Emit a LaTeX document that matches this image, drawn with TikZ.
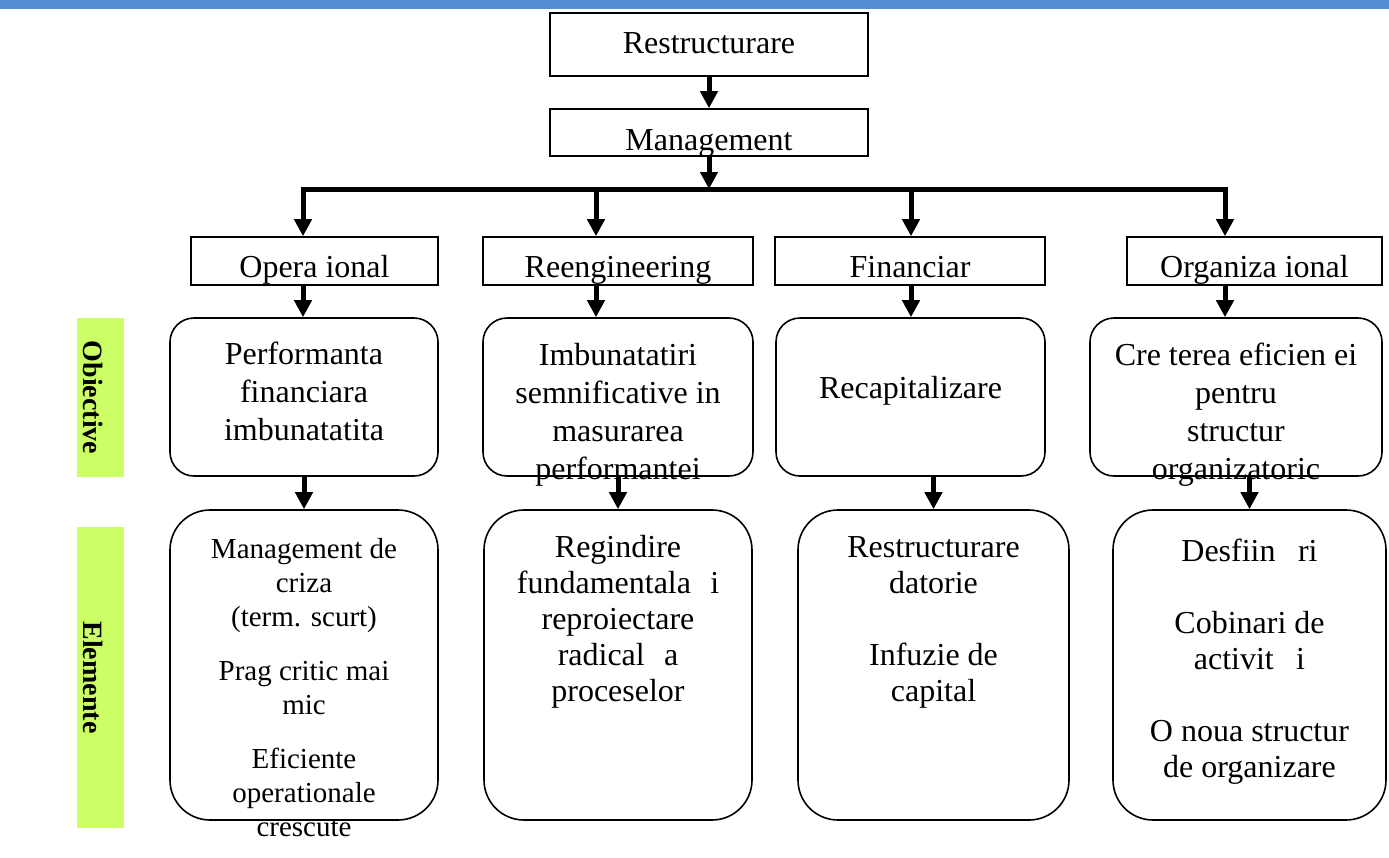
\documentclass[tikz,border=0pt]{standalone}
\usepackage{fontspec}
\setmainfont{Liberation Serif}
\usetikzlibrary{positioning,arrows.meta}
\definecolor{topbar}{HTML}{558ED5}
\definecolor{lime}{HTML}{CCFF66}
\tikzset{
  >={Triangle[width=8.5pt,length=8.5pt]},
  box/.style={draw=black, line width=0.8pt, inner sep=0pt},
  rbox/.style={box, rounded corners=12pt},
  ebox/.style={box, rounded corners=20pt},
  tag/.style={fill=lime, inner sep=0pt},
  tagtxt/.style={rotate=-90, inner sep=0pt, font=\fontsize{14}{16}\selectfont\bfseries},
  txt/.style={anchor=base, align=center, inner sep=0pt, font=\fontsize{16}{19}\selectfont},
  etxt/.style={txt, font=\fontsize{16}{18}\selectfont},
  arr/.style={->, line width=2.5pt},
}

\begin{document}
\begin{tikzpicture}[x=0.5pt, y=-0.5pt]
  \useasboundingbox (0,0) rectangle (1389,858);
  \fill[topbar] (0,0) rectangle (1389,9);

  % top of the tree
  \node[box, minimum width=159pt, minimum height=31.5pt] (restr) at (709,44.5) {};
  \node[txt] (restrt) at (709,53) {Restructurare};
  \node[box, minimum width=159pt, minimum height=23.5pt] (mgmt) at (709,132.5) {};
  \node[txt] (mgmtt) at (709,150) {Management};

  \coordinate (hub) at (709,189);
  \coordinate (j1) at (303,189);
  \coordinate (j2) at (596,189);
  \coordinate (j3) at (911,189);
  \coordinate (j4) at (1225,189);

  % directions
  \node[box, minimum width=123.5pt, minimum height=24pt] (op) at (314.5,261) {};
  \node[box, minimum width=135pt, minimum height=24pt] (re) at (618,261) {};
  \node[box, minimum width=135pt, minimum height=24pt] (fi) at (910,261) {};
  \node[box, minimum width=127.5pt, minimum height=24pt] (org) at (1254.5,261) {};
  \node[txt] (opt) at (op |- 0,277) {Opera ional};
  \node[txt] (ret) at (re |- 0,277) {Reengineering};
  \node[txt] (fit) at (fi |- 0,277) {Financiar};
  \node[txt] (orgt) at (org |- 0,277) {Organiza ional};

  % objectives (text placed by its last baseline)
  \node[rbox, minimum width=134pt, minimum height=79pt] (o1) at (304,397) {};
  \node[rbox, minimum width=135pt, minimum height=79pt] (o2) at (618,397) {};
  \node[rbox, minimum width=134.5pt, minimum height=79pt] (o3) at (910.5,397) {};
  \node[rbox, minimum width=146pt, minimum height=79pt] (o4) at (1236,397) {};
  \node[txt] (o1t) at (o1 |- 0,440) {Performanta\\ financiara\\ imbunatatita};
  \node[txt] (o2t) at (o2 |- 0,479) {Imbunatatiri\\ semnificative in\\ masurarea\\ performantei};
  \node[txt] (o3t) at (o3 |- 0,398) {Recapitalizare};
  \node[txt] (o4t) at (o4 |- 0,479) {Cre terea eficien ei\\ pentru\\ structur\\ organizatoric};

  % elements
  \node[ebox, minimum width=134pt, minimum height=155pt] (e1) at (304,665) {};
  \node[ebox, minimum width=134pt, minimum height=155pt] (e2) at (618,665) {};
  \node[ebox, minimum width=135.5pt, minimum height=155pt] (e3) at (933.5,665) {};
  \node[ebox, minimum width=136.5pt, minimum height=155pt] (e4) at (1249.5,665) {};
  \node[etxt, font=\fontsize{14.5}{17}\selectfont] (e1t) at (e1 |- 0,836)
    {Management de\\ criza\\ (term. scurt)\\[10pt] Prag critic mai\\ mic\\[10pt] Eficiente\\ operationale\\ crescute};
  \node[etxt] (e2t) at (e2 |- 0,701)
    {Regindire\\ fundamentala\hspace{0.6em}i\\ reproiectare\\ radical\hspace{0.6em}a\\ proceselor};
  \node[etxt] (e3t) at (e3 |- 0,701) {Restructurare\\ datorie\\[18pt] Infuzie de\\ capital};
  \node[etxt] (e4t) at (e4 |- 0,777)
    {Desfiin\hspace{0.7em}ri\\[18pt] Cobinari de\\ activit\hspace{0.7em}i\\[18pt] O noua structur\\ de organizare};

  % side labels
  \node[tag, minimum width=23.5pt, minimum height=79.5pt] (lobj) at (100.5,397.5) {};
  \node[tag, minimum width=23.5pt, minimum height=150.5pt] (lelem) at (100.5,677.5) {};
  \node[tagtxt] (lobjt) at ([xshift=-3.5pt]lobj.center) {Obiective};
  \node[tagtxt] (lelemt) at ([xshift=-3.5pt]lelem.center) {Elemente};

  % connectors
  \draw[arr] (restr.south) -- (mgmt.north);
  \draw[arr] (mgmt.south) -- (hub);
  \draw[arr] (hub) -| (j1 |- op.north);
  \draw[arr] (hub) -| (j4 |- org.north);
  \draw[arr] (j2) -- (j2 |- re.north);
  \draw[arr] (j3) -- (j3 |- fi.north);
  \draw[arr] (op.south -| j1) -- (j1 |- o1.north);
  \draw[arr] (re.south -| j2) -- (j2 |- o2.north);
  \draw[arr] (fi.south -| j3) -- (j3 |- o3.north);
  \draw[arr] (org.south -| j4) -- (j4 |- o4.north);
  \draw[arr] (o1.south -| e1.north) -- (e1.north);
  \draw[arr] (o2.south -| e2.north) -- (e2.north);
  \draw[arr] (o3.south -| e3.north) -- (e3.north);
  \draw[arr] (o4.south -| e4.north) -- (e4.north);
\end{tikzpicture}
\end{document}
